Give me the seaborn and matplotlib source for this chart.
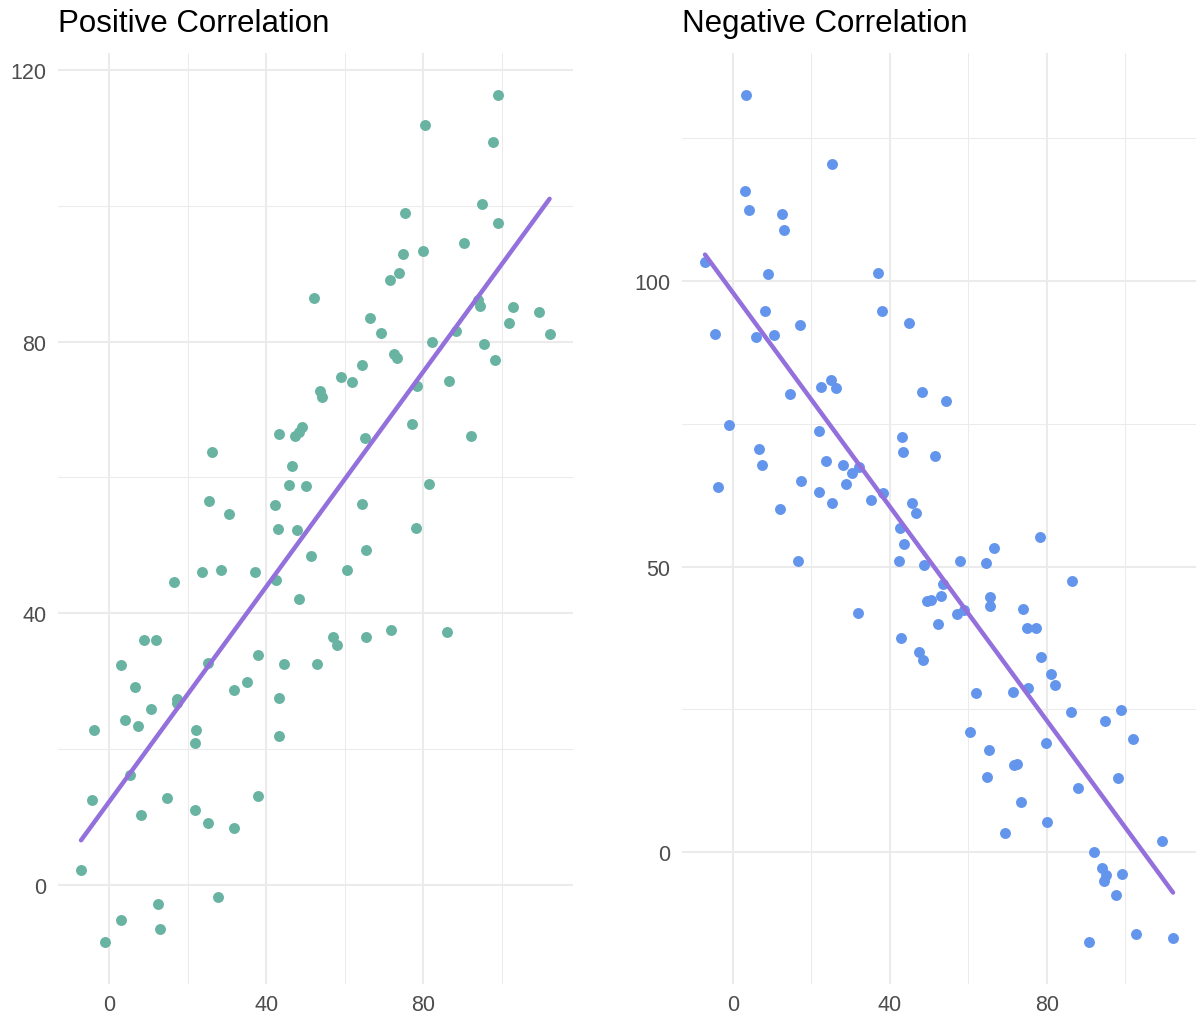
import numpy as np
import pandas as pd
import matplotlib
matplotlib.use("Agg")
import matplotlib.pyplot as plt
import seaborn as sns

# ---- data ----
pos_x = [-7.1, -4.3, -3.8, -1.0, 3.1, 3.1, 4.1, 5.4, 6.6, 7.4, 8.2, 8.9, 10.7, 12.0, 12.5, 13.0, 14.8, 16.6, 17.3, 17.3,
         21.9, 22.2, 21.9, 23.7, 25.2, 25.2, 25.5, 26.2, 27.8, 28.5, 30.6, 31.8, 31.8, 35.2, 37.2, 38.0, 38.0, 42.3, 42.5, 43.1,
         43.3, 43.3, 43.3, 44.6, 45.9, 46.6, 47.4, 47.9, 48.4, 48.4, 49.2, 50.2, 51.5, 52.2, 53.0, 53.8, 54.3, 57.1, 58.1, 59.1,
         60.6, 61.9, 64.5, 64.5, 65.2, 65.5, 65.5, 66.5, 69.3, 71.6, 71.8, 72.4, 73.4, 73.9, 74.9, 75.4, 77.2, 78.2, 78.5, 80.0,
         80.3, 81.3, 82.3, 86.1, 86.6, 88.4, 90.4, 92.0, 94.0, 94.5, 94.8, 95.3, 97.8, 98.1, 98.9, 99.1, 101.9, 102.9, 109.3, 112.1]
pos_y = [2.2, 12.5, 22.8, -8.4, 32.3, -5.2, 24.2, 16.2, 29.2, 23.4, 10.2, 36.1, 25.9, 36.1, -2.9, -6.5, 12.7, 44.6, 27.4, 26.7,
         11.0, 22.8, 20.9, 46.0, 9.1, 32.7, 56.6, 63.8, -1.8, 46.4, 54.6, 28.7, 8.4, 29.9, 46.0, 33.9, 13.1, 56.0, 44.9, 52.4,
         66.4, 27.5, 21.9, 32.5, 58.9, 61.7, 66.1, 52.3, 66.7, 42.1, 67.5, 58.8, 48.5, 86.5, 32.5, 72.8, 71.9, 36.5, 35.3, 74.8,
         46.4, 74.1, 76.6, 56.1, 65.8, 49.3, 36.5, 83.5, 81.3, 89.1, 37.6, 78.2, 77.6, 90.1, 92.9, 99.0, 67.9, 52.6, 73.5, 93.4,
         111.9, 59.1, 80.0, 37.3, 74.2, 81.6, 94.6, 66.1, 86.2, 85.3, 100.3, 79.7, 109.4, 77.3, 116.3, 97.5, 82.8, 85.1, 84.4, 81.1]

neg_x = [-7.1, -4.6, -3.8, -1.0, 3.3, 3.1, 4.1, 5.9, 6.6, 7.4, 8.2, 8.9, 10.4, 12.0, 12.5, 13.0, 14.5, 16.6, 17.1, 17.3,
         21.9, 21.9, 22.4, 23.7, 25.0, 25.2, 25.2, 26.2, 28.0, 28.8, 30.3, 31.8, 32.1, 35.2, 36.9, 38.0, 38.2, 42.5, 42.3, 42.8,
         43.1, 43.3, 43.6, 44.8, 45.6, 46.6, 47.4, 48.2, 48.4, 48.7, 49.4, 50.4, 51.5, 52.2, 53.0, 53.5, 54.3, 57.1, 57.8, 58.9,
         60.4, 61.9, 64.5, 64.7, 65.2, 65.5, 65.5, 66.5, 69.3, 71.3, 71.6, 72.4, 73.4, 73.9, 74.9, 75.2, 77.2, 78.2, 78.5, 79.7,
         80.0, 81.0, 82.0, 86.1, 86.4, 87.9, 90.7, 92.0, 94.0, 94.5, 95.0, 94.8, 97.6, 98.1, 98.9, 99.1, 101.9, 102.7, 109.3, 112.1]
neg_y = [103.3, 90.7, 64.0, 74.8, 132.5, 115.7, 112.4, 90.2, 70.6, 67.7, 94.8, 101.2, 90.6, 60.0, 111.7, 108.9, 80.2, 51.0, 92.3, 64.9,
         73.8, 63.1, 81.5, 68.5, 82.7, 120.5, 61.2, 81.3, 67.8, 64.5, 66.3, 41.8, 67.5, 61.7, 101.4, 94.8, 62.9, 56.8, 50.9, 37.4,
         72.6, 70.1, 54.0, 92.7, 61.2, 59.3, 35.1, 80.6, 33.7, 50.2, 43.9, 44.1, 69.4, 40.0, 44.9, 47.0, 79.0, 41.6, 50.9, 42.3,
         21.0, 27.8, 50.7, 13.1, 17.8, 43.0, 44.6, 53.3, 3.3, 28.1, 15.2, 15.4, 8.7, 42.5, 39.2, 28.7, 39.3, 55.1, 34.1, 19.1,
         5.2, 31.1, 29.2, 24.5, 47.4, 11.2, -15.7, 0.0, -2.8, -5.1, -4.0, 22.9, -7.5, 12.9, 24.8, -3.8, 19.8, -14.3, 1.9, -15.0]

titles = ["Positive Correlation", "Negative Correlation"]
x_major = [0, 40, 80]
x_minor = [20, 60, 100]
pos_y_major = [0, 40, 80, 120]
pos_y_minor = [20, 60, 100]
neg_y_major = [0, 50, 100]
neg_y_minor = [25, 75, 125]

point_colors = ["#69b3a2", "#6495ED"]
line_color = "#9370DB"

sns.set_theme(style="white")
plt.rcParams['font.family'] = ['Liberation Sans', 'DejaVu Sans']

fig = plt.figure(figsize=(12, 10.2), dpi=100)
ax1 = fig.add_axes([0.048, 0.0343, 0.4295, 0.9127])
ax2 = fig.add_axes([0.568, 0.0343, 0.429, 0.9127])

df_pos = pd.DataFrame({"x": pos_x, "y": pos_y})
df_neg = pd.DataFrame({"x": neg_x, "y": neg_y})


def draw(ax, df, color, ymaj, ymin, title):
    sns.regplot(data=df, x="x", y="y", ax=ax, ci=None, truncate=True,
                scatter_kws=dict(s=62, color=color, linewidths=0, alpha=1),
                line_kws=dict(color=line_color, lw=3.2))
    xs, ys = df["x"], df["y"]
    sx = xs.max() - xs.min()
    sy = ys.max() - ys.min()
    ax.set_xlim(xs.min() - 0.05 * sx, xs.max() + 0.05 * sx)
    ax.set_ylim(ys.min() - 0.05 * sy, ys.max() + 0.05 * sy)
    ax.set_xticks(x_major)
    ax.set_xticks(x_minor, minor=True)
    ax.set_yticks(ymaj)
    ax.set_yticks(ymin, minor=True)
    ax.grid(which="major", color="#ebebeb", lw=1.45)
    ax.grid(which="minor", color="#ebebeb", lw=0.75)
    ax.set_axisbelow(True)
    for s in ax.spines.values():
        s.set_visible(False)
    ax.tick_params(which="both", length=0, labelsize=15.5, labelcolor="#4d4d4d")
    ax.tick_params(axis="x", pad=7)
    ax.tick_params(axis="y", pad=8)
    ax.set_xlabel("")
    ax.set_ylabel("")
    ax.set_facecolor("white")
    ax.set_title(title, loc="left", fontsize=22.5, pad=16, color="black")


draw(ax1, df_pos, point_colors[0], pos_y_major, pos_y_minor, titles[0])
draw(ax2, df_neg, point_colors[1], neg_y_major, neg_y_minor, titles[1])

fig.savefig("out.png", dpi=100, facecolor="white")
